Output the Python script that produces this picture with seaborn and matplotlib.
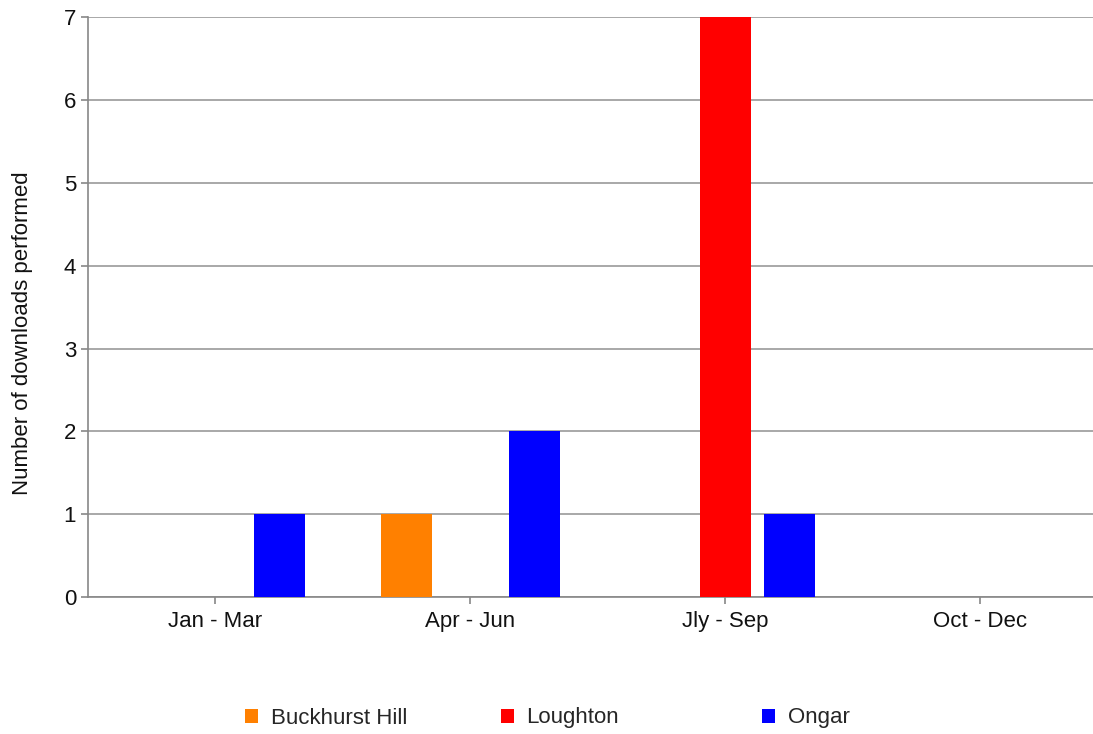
import pandas as pd
import matplotlib.pyplot as plt
import seaborn as sns

# data
quarters = ["Jan - Mar", "Apr - Jun", "Jly - Sep", "Oct - Dec"]
buckhurst_hill = [0, 1, 0, 0]
loughton = [0, 0, 7, 0]
ongar = [1, 2, 1, 0]
sites = ["Buckhurst Hill", "Loughton", "Ongar"]
colours = ["#ff8000", "#ff0000", "#0000ff"]

df = pd.DataFrame({
    "Quarter": quarters * 3,
    "Site": [s for s in sites for _ in quarters],
    "Downloads": buckhurst_hill + loughton + ongar,
})

sns.set_style("white")
plt.rcParams["font.family"] = ["Liberation Sans", "DejaVu Sans"]

fig = plt.figure(figsize=(10.93, 7.34), dpi=100)
# plot area runs a little past the right edge of the picture, as in the original
ax = fig.add_axes([0.0805, 0.1866, 0.9332, 0.79])

sns.barplot(data=df, x="Quarter", y="Downloads", hue="Site", order=quarters,
            hue_order=sites, palette=colours, width=0.753, gap=0.2,
            saturation=1, linewidth=0, ax=ax, zorder=3)

ax.set_ylim(0, 7)
ax.set_yticks(range(0, 8))
ax.set_xlim(-0.5, 3.5)
ax.grid(axis="y", color="#999999", linewidth=1.2, zorder=0)
for side in ["top", "right"]:
    ax.spines[side].set_visible(False)
for side in ["left", "bottom"]:
    ax.spines[side].set_color("#888888")
    ax.spines[side].set_linewidth(1.2)
ax.tick_params(axis="both", colors="#888888", labelcolor="#111111",
               labelsize=16, length=5, width=1.2, left=True, bottom=True)
ax.tick_params(axis="x", pad=5)
ax.set_xlabel("")
ax.set_ylabel("Number of downloads performed", fontsize=16, color="#111111")
ax.yaxis.set_label_coords(-0.054, 0.455)

handles, labels = ax.get_legend_handles_labels()
ax.legend_.remove()
legend_x = [245, 501, 762]
for h, lab, x in zip(handles, labels, legend_x):
    fig.legend([h], [lab], loc="center left", bbox_to_anchor=(x / 1093, 1 - 718 / 734),
               frameon=False, fontsize=16, handlelength=0.6, handleheight=0.6,
               handletextpad=0.55, borderpad=0, borderaxespad=0)

fig.savefig("out.png", dpi=100)
